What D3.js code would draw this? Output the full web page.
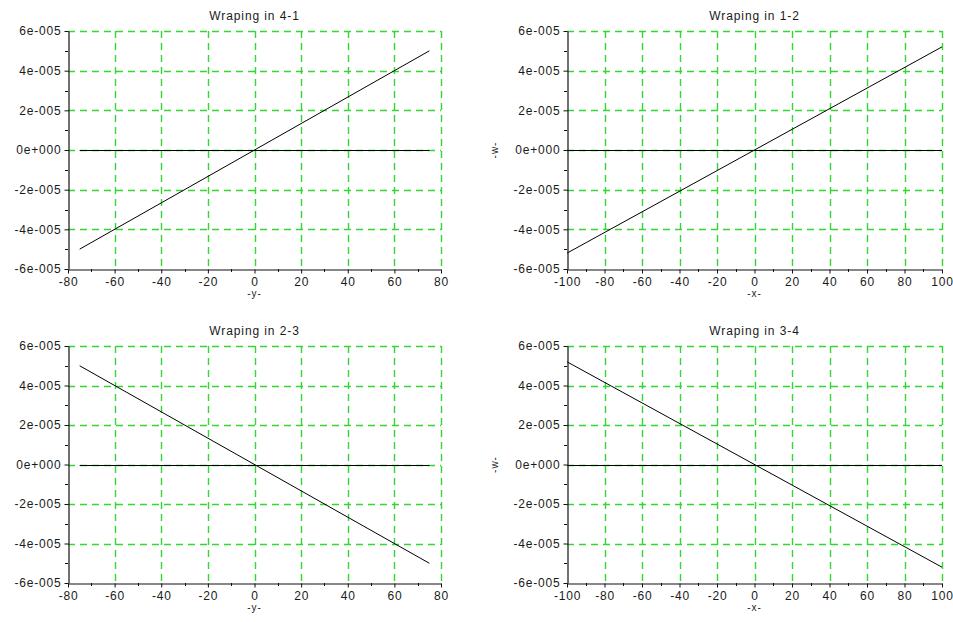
<!DOCTYPE html>
<html><head><meta charset="utf-8">
<script src="https://cdn.jsdelivr.net/npm/d3@7"></script>
<style>body{margin:0;background:#fff}svg{display:block}text{font-family:"Liberation Sans",Arial,sans-serif;fill:#1a1a1a}</style>
</head><body>
<script>
const yTicks = [-6e-5,-4e-5,-2e-5,0,2e-5,4e-5,6e-5];
const yTickLabels = ["-6e-005","-4e-005","-2e-005","0e+000","2e-005","4e-005","6e-005"];
const xTicksNarrow = [-80,-60,-40,-20,0,20,40,60,80];
const xTicksWide = [-100,-80,-60,-40,-20,0,20,40,60,80,100];
const titles = ["Wraping in 4-1","Wraping in 1-2","Wraping in 2-3","Wraping in 3-4"];
const xLabels = ["-y-","-x-","-y-","-x-"];
const yLabels = ["","-w-","","-w-"];
const lineX41 = [-75,75], lineW41 = [-5.0e-5,5.0e-5];
const lineX12 = [-100,100], lineW12 = [-5.2e-5,5.2e-5];
const lineX23 = [-75,75], lineW23 = [5.0e-5,-5.0e-5];
const lineX34 = [-100,100], lineW34 = [5.2e-5,-5.2e-5];
const zeroX41 = [-75,75], zeroX12 = [-100,100], zeroX23 = [-75,75], zeroX34 = [-100,100];

const W = 953, H = 622;
const svg = d3.select("body").append("svg").attr("width",W).attr("height",H);
const panels = [
  {l:68,r:441,t:31,b:269,xd:[-80,80],xt:xTicksNarrow,lx:lineX41,lw:lineW41,zx:zeroX41},
  {l:567,r:942,t:31,b:269,xd:[-100,100],xt:xTicksWide,lx:lineX12,lw:lineW12,zx:zeroX12},
  {l:68,r:441,t:346,b:583,xd:[-80,80],xt:xTicksNarrow,lx:lineX23,lw:lineW23,zx:zeroX23},
  {l:567,r:942,t:346,b:583,xd:[-100,100],xt:xTicksWide,lx:lineX34,lw:lineW34,zx:zeroX34}
];
const green = "#33d633";
const px = v => Math.round(v) + 0.5;
panels.forEach((p,i)=>{
  const x = d3.scaleLinear().domain(p.xd).range([p.l,p.r]);
  const y = d3.scaleLinear().domain([-6e-5,6e-5]).range([p.b,p.t]);
  const g = svg.append("g");
  // grid
  g.selectAll(".gx").data(p.xt.slice(1)).enter().append("line")
    .attr("x1",d=>px(x(d))).attr("x2",d=>px(x(d))).attr("y1",p.t).attr("y2",p.b)
    .attr("stroke",green).attr("stroke-width",1.4).attr("stroke-dasharray","7,5");
  g.selectAll(".gy").data(yTicks.slice(1)).enter().append("line")
    .attr("y1",d=>px(y(d))).attr("y2",d=>px(y(d))).attr("x1",p.l).attr("x2",p.r)
    .attr("stroke",green).attr("stroke-width",1.4).attr("stroke-dasharray","7,5");
  // zero line
  g.append("line").attr("x1",x(p.zx[0])).attr("x2",x(p.zx[1])).attr("y1",px(y(0))).attr("y2",px(y(0)))
    .attr("stroke","#000").attr("stroke-width",1);
  // data line
  const pts = p.lx.map((v,k)=>[v,p.lw[k]]);
  g.append("path").datum(pts).attr("d",d3.line().x(d=>x(d[0])).y(d=>y(d[1])))
    .attr("fill","none").attr("stroke","#000").attr("stroke-width",1);
  // axes
  const step = (p.xt[1]-p.xt[0])/2;
  const minorX = d3.range(p.xd[0],p.xd[1]+0.001,step).filter(v=>!p.xt.includes(v));
  const minorY = d3.range(-6e-5,6.1e-5,1e-5).filter(v=>!yTicks.some(t=>Math.abs(t-v)<1e-9));
  const xa = g.append("g").attr("transform",`translate(0,${px(p.b)})`)
    .call(d3.axisBottom(x).tickValues(p.xt).tickFormat(d=>String(d)).tickSize(4).tickSizeOuter(0).tickPadding(4));
  xa.selectAll("text").style("font-size","12px").style("letter-spacing","0.8px").attr("fill","#1a1a1a");
  xa.selectAll(".tick line").attr("stroke","#111");
  xa.select(".domain").attr("stroke","#111").attr("stroke-width",1.2);
  g.selectAll(".mx").data(minorX).enter().append("line")
    .attr("x1",d=>px(x(d))).attr("x2",d=>px(x(d))).attr("y1",p.b).attr("y2",p.b+3).attr("stroke","#111");
  const ya = g.append("g").attr("transform",`translate(${px(p.l)},0)`)
    .call(d3.axisLeft(y).tickValues(yTicks).tickFormat((d,k)=>yTickLabels[k]).tickSize(4).tickSizeOuter(0).tickPadding(3));
  ya.selectAll("text").style("font-size","12px").style("letter-spacing","0.8px").attr("fill","#1a1a1a");
  ya.selectAll(".tick line").attr("stroke","#111");
  ya.select(".domain").attr("stroke","#111").attr("stroke-width",1.2);
  g.selectAll(".my").data(minorY).enter().append("line")
    .attr("y1",d=>px(y(d))).attr("y2",d=>px(y(d))).attr("x1",p.l).attr("x2",p.l-3).attr("stroke","#111");
  // titles
  g.append("text").attr("x",(p.l+p.r)/2).attr("y",p.t-11).attr("text-anchor","middle")
    .style("font-size","12px").style("letter-spacing","0.9px").text(titles[i]);
  g.append("text").attr("x",(p.l+p.r)/2).attr("y",p.b+28).attr("text-anchor","middle")
    .style("font-size","10px").style("letter-spacing","1px").text(xLabels[i]);
  if (yLabels[i]) {
    g.append("text").attr("transform",`translate(${p.l-73},${y(0)}) rotate(-90)`)
      .attr("text-anchor","middle").attr("dy","0.35em").style("font-size","10px").style("letter-spacing","1px").text(yLabels[i]);
  }
});
</script>
</body></html>
